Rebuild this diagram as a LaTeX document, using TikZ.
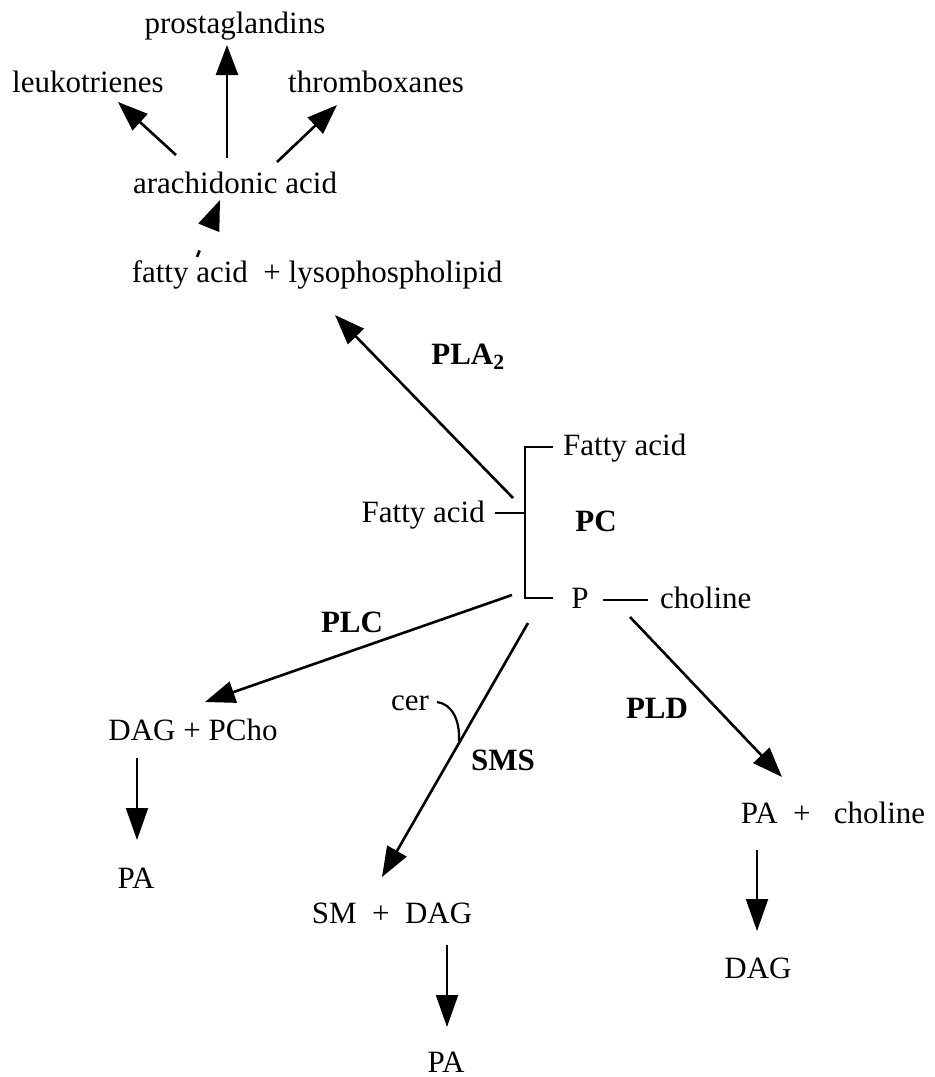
\documentclass[tikz,border=0pt]{standalone}
\usepackage{fontspec}
\setmainfont{Liberation Serif}
\usetikzlibrary{arrows.meta}
\tikzset{
  lbl/.style={inner sep=0pt, anchor=base, font=\fontsize{31}{36}\selectfont},
  enz/.style={inner sep=0pt, anchor=base, font=\fontsize{31}{36}\selectfont\bfseries},
  arr/.style={line width=2.6pt, -{Triangle[length=30pt,width=22pt]}},
  varr/.style={line width=2pt, -{Triangle[length=32pt,width=22pt]}},
  bond/.style={line width=2.6pt}
}
\begin{document}
\begin{tikzpicture}[x=1pt,y=-1pt]
\useasboundingbox (0,0) rectangle (935,1077);
% texts
\node[lbl] (pg) at (235,33) {prostaglandins};
\node[lbl] (lt) at (88,92) {leukotrienes};
\node[lbl] (tx) at (376,92) {thromboxanes};
\node[lbl] (aa) at (235,193) {arachidonic acid};
\node[lbl] (fa) at (317,282) {fatty acid\ \ + lysophospholipid};
\node[enz] (pla) at (468,364) {PLA$_{\mathbf 2}$};
\node[lbl,anchor=base west] (fat) at (563,455) {Fatty acid};
\node[lbl,anchor=base east] (fal) at (485,522) {Fatty acid};
\node[enz] (pc) at (596,531) {PC};
\node[lbl] (p) at (580,608) {P};
\node[lbl,anchor=base west] (cho) at (660,608) {choline};
\node[enz] (plc) at (352,632) {PLC};
\node[lbl] (dagp) at (193,740) {DAG + PCho};
\node[lbl] (pa1) at (136,888) {PA};
\node[lbl] (cer) at (410,710) {cer};
\node[enz] (sms) at (503,770) {SMS};
\node[lbl] (smdag) at (392,923) {SM\ \ +\ \ DAG};
\node[lbl] (pa2) at (446,1072) {PA};
\node[enz] (pld) at (657,718) {PLD};
\node[lbl] (pac) at (833,823) {PA\ \ +\ \ \ choline};
\node[lbl] (dag2) at (758,978) {DAG};
% coordinates
\coordinate (ltS) at (176,155); \coordinate (ltE) at (118,102);
\coordinate (pgS) at (227,158); \coordinate (pgE) at (227,45);
\coordinate (txS) at (277,162); \coordinate (txE) at (337,105);
\coordinate (faS) at (197,257); \coordinate (aaE) at (220,200);
\coordinate (plaS) at (513,498); \coordinate (plaE) at (335,315);
\coordinate (bt) at (553,447); \coordinate (vt) at (525,447);
\coordinate (vb) at (525,598); \coordinate (bb) at (553,598);
\coordinate (dl) at (495,513); \coordinate (dr) at (525,513);
\coordinate (pl) at (603,600); \coordinate (pr) at (648,600);
\coordinate (plcS) at (512,595); \coordinate (plcE) at (205,702);
\coordinate (smsS) at (528,623); \coordinate (smsE) at (382,877);
\coordinate (pldS) at (630,617); \coordinate (pldE) at (782,777);
\coordinate (c1) at (437,702); \coordinate (c2) at (459,741);
\coordinate (a1S) at (137,758); \coordinate (a1E) at (137,840);
\coordinate (a2S) at (447,945); \coordinate (a2E) at (447,1027);
\coordinate (a3S) at (757,850); \coordinate (a3E) at (757,931);
% arrows
\draw[arr] (ltS) -- (ltE);
\draw[arr] (pgS) -- (pgE);
\draw[arr] (txS) -- (txE);
\draw[arr, dash pattern=on 7pt off 80pt] (faS) -- (aaE);
\draw[arr] (plaS) -- (plaE);
\draw[bond, line cap=butt] (bt) -- (vt) -- (vb) -- (bb);
\draw[bond] (dl) -- (dr);
\draw[bond] (pl) -- (pr);
\draw[arr] (plcS) -- (plcE);
\draw[arr] (smsS) -- (smsE);
\draw[arr] (pldS) -- (pldE);
\draw[line width=2.2pt] (c1) .. controls (452,704) and (460,720) .. (c2);
\draw[varr] (a1S) -- (a1E);
\draw[varr] (a2S) -- (a2E);
\draw[varr] (a3S) -- (a3E);
\end{tikzpicture}
\end{document}
